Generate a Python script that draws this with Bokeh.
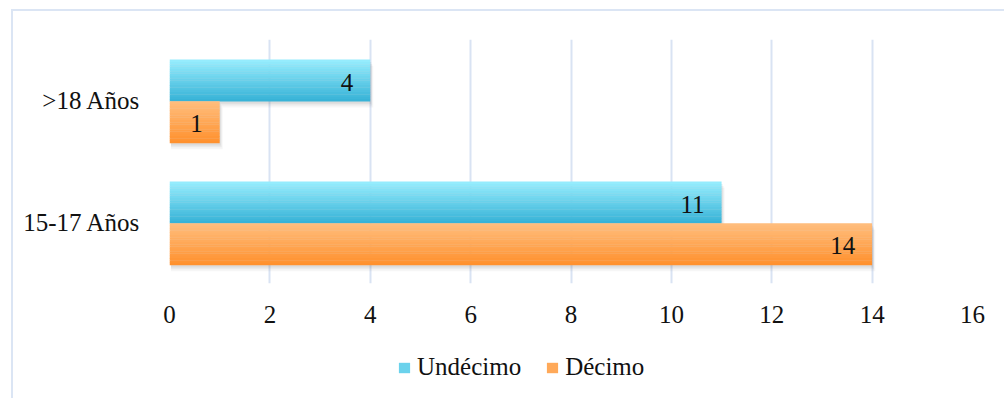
from bokeh.plotting import figure
from bokeh.layouts import column
from bokeh.models import (ColumnDataSource, FactorRange, Range1d, Legend, LegendItem,
                          FixedTicker)
from bokeh.transform import dodge
from bokeh.core.properties import value
from bokeh.embed import file_html
from bokeh.resources import INLINE

# Data
categories = ["15-17 Años", ">18 Años"]
undecimo = [11, 4]
decimo = [14, 1]
x_ticks = [0, 2, 4, 6, 8, 10, 12, 14, 16]
series_names = ["Undécimo", "Décimo"]

FONT = "Liberation Serif"
TEXT_COLOR = "#111111"
GRID_COLOR = "#d9e3f3"
BORDER_COLOR = "#dbe5f4"
W = 1004

src = ColumnDataSource(dict(cat=categories, und=undecimo, dec=decimo))

p = figure(width=W, height=340,
           y_range=FactorRange(*categories, range_padding=0),
           x_range=Range1d(0, 16),
           output_backend="svg", toolbar_location=None,
           min_border_left=169, min_border_right=32,
           min_border_top=39, min_border_bottom=57)
p.outline_line_color = None
p.background_fill_color = "white"
p.border_fill_alpha = 0
# chart-area border (left and top edges) painted behind the transparent canvas
p.styles = {
    "background": (f"linear-gradient({BORDER_COLOR},{BORDER_COLOR}) 11px 9px / 2px 100% no-repeat, "
                   f"linear-gradient({BORDER_COLOR},{BORDER_COLOR}) 11px 9px / 100% 2px no-repeat, "
                   "white"),
}

# grid
p.xgrid.grid_line_color = GRID_COLOR
p.xgrid.grid_line_width = 2
p.ygrid.grid_line_color = None

# axes
p.xaxis.ticker = FixedTicker(ticks=x_ticks)
for ax in (p.xaxis[0], p.yaxis[0]):
    ax.axis_line_color = None
    ax.major_tick_line_color = None
    ax.minor_tick_line_color = None
    ax.major_tick_out = 0
    ax.major_tick_in = 0
    ax.major_label_text_font = FONT
    ax.major_label_text_font_size = "25px"
    ax.major_label_text_color = TEXT_COLOR
p.xaxis.major_label_standoff = 22
p.yaxis.major_label_standoff = 29


def mix(c0, c1, t):
    a = [int(c0[i:i + 2], 16) for i in (1, 3, 5)]
    b = [int(c1[i:i + 2], 16) for i in (1, 3, 5)]
    return "#%02x%02x%02x" % tuple(round(x + (y - x) * t) for x, y in zip(a, b))


BAR_H = 0.342
SPLIT = -0.008
N = 18

# (field, top offset, top colour, bottom colour)
series = [
    ("und", SPLIT + BAR_H, "#95ecfd", "#38b3d7"),
    ("dec", SPLIT, "#ffbd7c", "#ff912e"),
]

# soft drop shadows under each bar
for field, top, _, _ in series:
    for dy, dx, a in [(0.018, 0.02, 0.10), (0.034, 0.04, 0.08), (0.050, 0.06, 0.06)]:
        p.hbar(y=dodge("cat", top - BAR_H / 2 - dy, range=p.y_range),
               left=0.03, right=dodge(field, dx, range=p.x_range),
               height=BAR_H, fill_color="#606060", fill_alpha=a,
               line_color=None, source=src)

# vertical gradient bars built from thin strips
for field, top, c_top, c_bot in series:
    for i in range(N):
        h = BAR_H / N
        off = top - (i + 0.5) * h
        p.hbar(y=dodge("cat", off, range=p.y_range), left=0, right=field,
               height=h * 1.12, fill_color=mix(c_top, c_bot, i / (N - 1)),
               line_color=None, source=src)
    # value labels inside the bar end
    p.text(x=field, y=dodge("cat", top - BAR_H / 2 - 0.012, range=p.y_range),
           text=field, source=src, x_offset=-17,
           text_align="right", text_baseline="middle",
           text_font=value(FONT), text_font_size="25px", text_color=TEXT_COLOR)

# legend strip below the chart (its frame lines up with the chart's frame)
lg = figure(width=W, height=58, x_range=Range1d(0, 1), y_range=Range1d(0, 1),
            output_backend="svg", toolbar_location=None,
            x_axis_type=None, y_axis_type=None, min_border=0)
lg.outline_line_color = None
lg.grid.visible = False
lg.background_fill_alpha = 0
lg.border_fill_alpha = 0
lg.styles = {
    "background": (f"linear-gradient({BORDER_COLOR},{BORDER_COLOR}) 11px 0px / 2px 100% no-repeat, "
                   "white"),
}
# zero-size swatch carriers: they only give the legend its colours
swatches = []
for (_, _, c_top, c_bot) in series:
    swatches.append(lg.hbar(y=[0], left=[0], right=[0], height=0, line_color=None,
                            fill_color=mix(c_top, c_bot, 0.45)))

legend = Legend(items=[LegendItem(label=n, renderers=[r])
                       for n, r in zip(series_names, swatches)],
                orientation="horizontal", location=(228, 17))
legend.glyph_width = 14
legend.glyph_height = 13
legend.label_standoff = 6
legend.spacing = 24
legend.padding = 0
legend.margin = 0
legend.border_line_color = None
legend.background_fill_alpha = 0
legend.label_text_font = FONT
legend.label_text_font_size = "25px"
legend.label_text_color = TEXT_COLOR
lg.add_layout(legend, "center")

layout = column(p, lg, spacing=0)
open("out.html", "w").write(file_html(layout, INLINE))
